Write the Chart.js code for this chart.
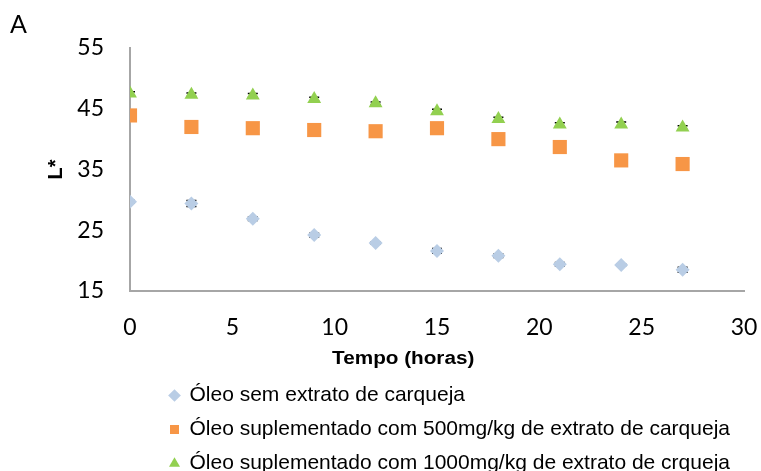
<!DOCTYPE html>
<html>
<head>
<meta charset="utf-8">
<script src="https://cdn.jsdelivr.net/npm/chart.js@4/dist/chart.umd.min.js"></script>
<style>
  html, body { margin: 0; padding: 0; background: #fff; }
  #wrap { width: 761px; height: 471px; position: relative; }
</style>
</head>
<body>
<div id="wrap"><canvas id="chart"></canvas></div>
<script>
// ===== DATA =====
const hours = [0, 3, 6, 9, 12, 15, 18, 21, 24, 27];

const semExtrato = [29.7, 29.4, 26.9, 24.2, 22.9, 21.6, 20.8, 19.4, 19.3, 18.5];
const extrato500 = [43.9, 42.0, 41.8, 41.5, 41.3, 41.8, 40.0, 38.7, 36.5, 35.9];
const extrato1000 = [47.5, 47.3, 47.2, 46.6, 45.9, 44.6, 43.3, 42.4, 42.4, 41.9];

const errSem = [0.2, 0.5, 0.3, 0.3, 0.2, 0.4, 0.3, 0.3, 0.2, 0.4];
const err500 = [0.3, 0.3, 0.3, 0.3, 0.3, 0.3, 0.3, 0.3, 0.3, 0.3];
const err1000 = [0.3, 0.3, 0.3, 0.3, 0.2, 0.3, 0.3, 0.3, 0.4, 0.3];

const seriesNames = [
    'Óleo sem extrato de carqueja',
    'Óleo suplementado com 500mg/kg de extrato de carqueja',
    'Óleo suplementado com 1000mg/kg de extrato de crqueja'
];

const yTicks = [15, 25, 35, 45, 55];
const xTicks = [0, 5, 10, 15, 20, 25, 30];

function toPoints(values, errs) {
    return values.map((v, i) => ({ x: hours[i], y: v, err: errs[i] }));
}

// error bars drawn behind the markers, clipped to the plot
const errorBars = {
    id: 'errorBars',
    beforeDatasetsDraw(chart) {
        const ctx = chart.ctx;
        const a = chart.chartArea;
        const xs = chart.scales.x, ys = chart.scales.y;
        ctx.save();
        ctx.beginPath();
        ctx.rect(a.left + 1, a.top, a.right - a.left, a.bottom - a.top);
        ctx.clip();
        ctx.strokeStyle = '#000';
        ctx.lineWidth = 1.5;
        chart.data.datasets.forEach(ds => {
            ds.data.forEach(p => {
                const px = xs.getPixelForValue(p.x);
                const top = ys.getPixelForValue(p.y + p.err);
                const bot = ys.getPixelForValue(p.y - p.err);
                ctx.beginPath();
                ctx.moveTo(px, top); ctx.lineTo(px, bot);
                ctx.moveTo(px - 5, top); ctx.lineTo(px + 5, top);
                ctx.moveTo(px - 5, bot); ctx.lineTo(px + 5, bot);
                ctx.stroke();
            });
        });
        ctx.restore();
    }
};

// x axis title sits left of centre in the original, legend is indented
const layoutTweaks = {
    id: 'layoutTweaks',
    afterLayout(chart) {
        const lg = chart.legend;
        if (lg) {
            const pad = lg.options.labels.padding;
            lg.left = 170 - pad;
            lg.top = 385 - pad;
        }
        if (chart.titleBlock) chart.titleBlock.left = 10;
    },
    afterDraw(chart) {
        const ctx = chart.ctx;
        const a = chart.chartArea;
        ctx.save();
        ctx.translate(a.left + (a.right - a.left) * 0.445, a.bottom + 68);
        ctx.scale(1.15, 1);
        ctx.font = 'bold 18px "Liberation Sans", Arial, sans-serif';
        ctx.fillStyle = '#000';
        ctx.textAlign = 'center';
        ctx.textBaseline = 'middle';
        ctx.fillText('Tempo (horas)', 0, 0);
        ctx.restore();
    }
};

const ctx = document.getElementById('chart').getContext('2d');

new Chart(ctx, {
    type: 'scatter',
    data: {
        datasets: [{
            label: seriesNames[0],
            data: toPoints(semExtrato, errSem),
            pointStyle: 'rectRot',
            pointRadius: 7,
            backgroundColor: '#b9cde5',
            borderColor: '#b9cde5',
            borderWidth: 0
        }, {
            label: seriesNames[1],
            data: toPoints(extrato500, err500),
            pointStyle: 'rect',
            pointRadius: 10,
            backgroundColor: '#f79646',
            borderColor: '#f79646',
            borderWidth: 0
        }, {
            label: seriesNames[2],
            data: toPoints(extrato1000, err1000),
            pointStyle: 'triangle',
            pointRadius: 8,
            backgroundColor: '#92d050',
            borderColor: '#92d050',
            borderWidth: 0
        }]
    },
    options: {
        responsive: true,
        maintainAspectRatio: false,
        animation: false,
        layout: { padding: { left: 0, right: 17, top: 0, bottom: 0 } },
        plugins: {
            title: {
                display: true,
                text: 'A',
                align: 'start',
                color: '#000',
                font: { family: 'Lato, "Open Sans", sans-serif', size: 25, weight: 'normal' },
                padding: { top: 10, bottom: 8 }
            },
            legend: {
                position: 'bottom',
                align: 'start',
                labels: {
                    usePointStyle: true,
                    boxHeight: 9,
                    boxWidth: 9,
                    padding: 13,
                    color: '#000',
                    font: { family: '"Liberation Sans", Arial, sans-serif', size: 21 }
                }
            },
            tooltip: { enabled: false }
        },
        scales: {
            x: {
                type: 'linear',
                min: 0,
                max: 30,
                afterBuildTicks: s => { s.ticks = xTicks.map(v => ({ value: v })); },
                afterFit: s => {
                    s.height = 180 - (s.chart.legend ? s.chart.legend.height : 0);
                    s.paddingLeft = 0;
                    s.paddingRight = 0;
                },
                grid: { display: false },
                border: { display: true, color: '#a6a6a6', width: 2 },
                ticks: {
                    color: '#000',
                    padding: 15,
                    font: { family: 'Lato, "Open Sans", sans-serif', size: 23 }
                }
            },
            y: {
                min: 15,
                max: 55,
                afterBuildTicks: s => { s.ticks = yTicks.map(v => ({ value: v })); },
                afterFit: s => { s.width = 130; },
                grid: { display: false },
                border: { display: true, color: '#a6a6a6', width: 2 },
                title: {
                    display: true,
                    text: 'L*',
                    color: '#000',
                    font: { family: '"Liberation Sans", Arial, sans-serif', size: 20, weight: 'bold' },
                    padding: { top: 44, bottom: 0 }
                },
                ticks: {
                    color: '#000',
                    padding: 18,
                    font: { family: 'Lato, "Open Sans", sans-serif', size: 23 }
                }
            }
        }
    },
    plugins: [errorBars, layoutTweaks]
});
</script>
</body>
</html>
